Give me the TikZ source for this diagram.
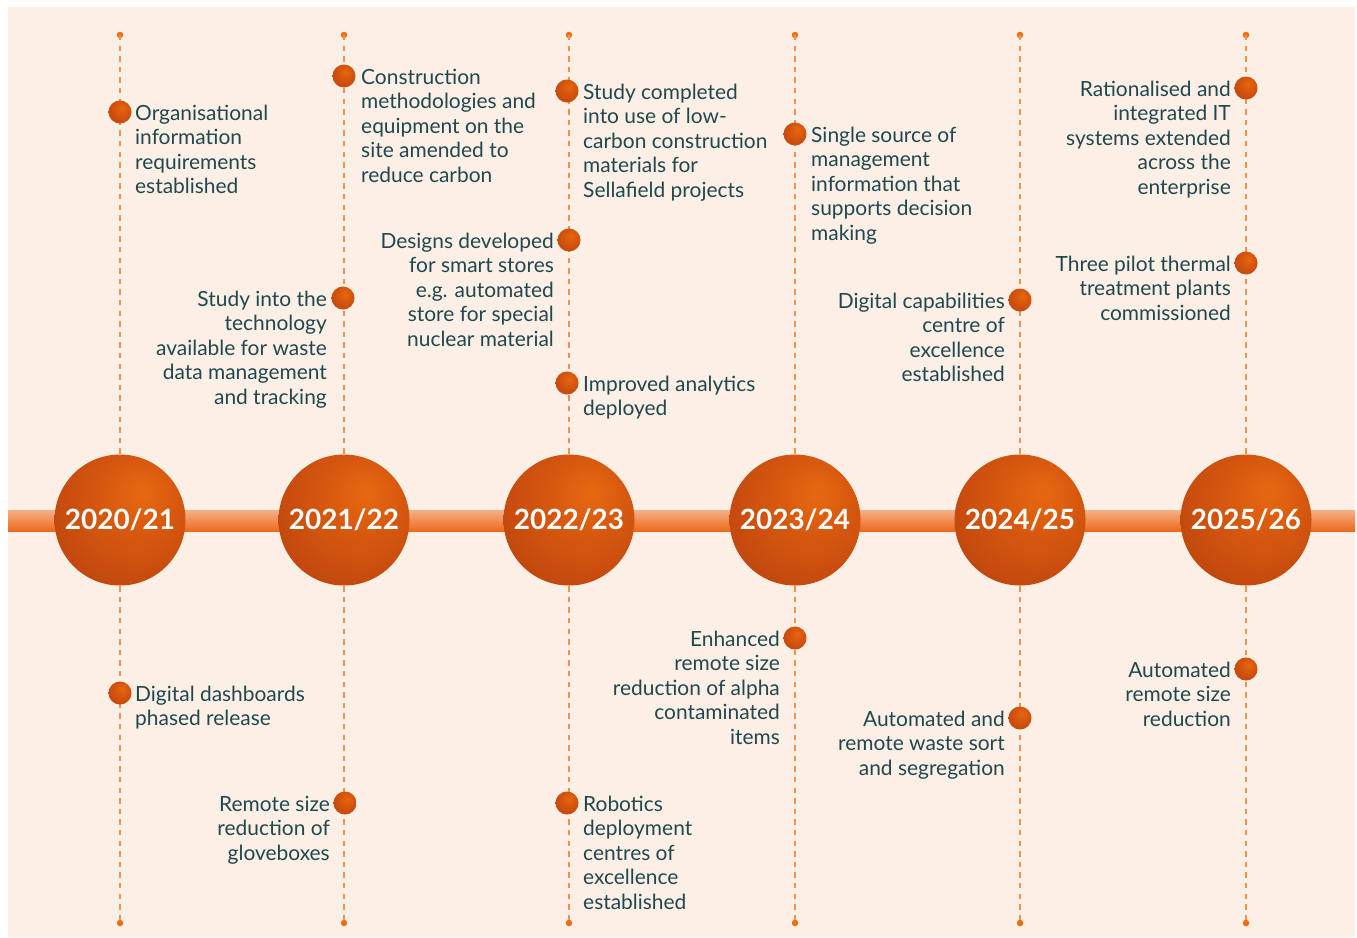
\documentclass[tikz,border=0pt]{standalone}
\usepackage{fontspec}
\setmainfont{Lato}
\definecolor{peach}{HTML}{FCEFE6}
\definecolor{txt}{HTML}{21474F}
\definecolor{dashorange}{HTML}{F4914A}
\definecolor{endorange}{HTML}{F06E10}
\definecolor{bartop}{HTML}{F7B088}
\definecolor{barbot}{HTML}{EC6A1C}
\pgfdeclareradialshading{yearshade}{\pgfpoint{9bp}{11bp}}{color(0bp)=(rgb,255:red,232;green,104;blue,16); color(15bp)=(rgb,255:red,214;green,88;blue,15); color(35bp)=(rgb,255:red,192;green,70;blue,14); color(52bp)=(rgb,255:red,174;green,58;blue,12); color(75bp)=(rgb,255:red,160;green,50;blue,10)}
\pgfdeclareradialshading{dotshade}{\pgfpoint{5bp}{9bp}}{color(0bp)=(rgb,255:red,232;green,102;blue,14); color(15bp)=(rgb,255:red,214;green,86;blue,14); color(35bp)=(rgb,255:red,192;green,68;blue,13); color(52bp)=(rgb,255:red,172;green,56;blue,12); color(75bp)=(rgb,255:red,160;green,50;blue,10)}
\tikzset{
  yearball/.style={circle, minimum size=131bp, inner sep=0pt, shade, shading=yearshade, text=white, font=\fontsize{28}{30}\selectfont\bfseries},
  mdot/.style={circle, minimum size=23bp, inner sep=0pt, shade, shading=dotshade},
  enddot/.style={circle, fill=endorange, minimum size=6.5bp, inner sep=0pt},
  vline/.style={draw=dashorange, line width=1.7bp, dash pattern=on 5.3bp off 5.3bp},
  ltxt/.style={anchor=base west, align=left, inner sep=0pt, text=txt, font=\fontsize{21}{24.6}\selectfont},
  rtxt/.style={anchor=base east, align=right, inner sep=0pt, text=txt, font=\fontsize{21}{24.6}\selectfont},
}
% base anchor of a multi-line node is the last line: y = dot + 8 + (lines-1)*24.6
\begin{document}
\begin{tikzpicture}[x=1bp,y=-1bp]
\useasboundingbox (0,0) rectangle (1357,937);
\fill[white] (0,0) rectangle (1357,937);
\fill[peach] (8,7) rectangle (1355,937);
% timeline bar
\shade[top color=bartop, bottom color=barbot] (8,510) rectangle (1355,531);
% columns
\foreach \n/\x in {a/120,b/344,c/569,d/795,e/1020,f/1246}{
  \node[enddot] (\n top) at (\x,35) {};
  \node[enddot] (\n bot) at (\x,923) {};
}
\foreach \n in {a,b,c,d,e,f}{
  \draw[vline] (\n top.center) -- (\n bot.center);
}
\node[yearball] (ya) at (120,520) {2020/21};
\node[yearball] (yb) at (344,520) {2021/22};
\node[yearball] (yc) at (569,520) {2022/23};
\node[yearball] (yd) at (795,520) {2023/24};
\node[yearball] (ye) at (1020,520) {2024/25};
\node[yearball] (yf) at (1246,520) {2025/26};
% 2020/21
\node[mdot] (a1) at (120,112) {};
\node[ltxt] (ta1) at (135,193.8) {Organisational\\information\\requirements\\established};
\node[mdot] (a2) at (120,693) {};
\node[ltxt] (ta2) at (135,725.6) {Digital dashboards\\phased release};
% 2021/22
\node[mdot] (b1) at (344,76) {};
\node[ltxt] (tb1) at (361,182.4) {Construction\\methodologies and\\equipment on the\\site amended to\\reduce carbon};
\node[mdot] (b2) at (343,298) {};
\node[rtxt] (tb2) at (327,404.4) {Study into the\\technology\\available for waste\\data management\\and tracking};
\node[mdot] (b3) at (345,803) {};
\node[rtxt] (tb3) at (330,860.2) {Remote size\\reduction of\\gloveboxes};
% 2022/23
\node[mdot] (c1) at (567,91) {};
\node[ltxt] (tc1) at (583,197.4) {Study completed\\into use of low-\\carbon construction\\materials for\\Sellafield projects};
\node[mdot] (c2) at (569,240) {};
\node[rtxt] (tc2) at (554,346.4) {Designs developed\\for smart stores\\e.g. automated\\store for special\\nuclear material};
\node[mdot] (c3) at (567,383) {};
\node[ltxt] (tc3) at (583,415.6) {Improved analytics\\deployed};
\node[mdot] (c4) at (567,803) {};
\node[ltxt] (tc4) at (583,909.4) {Robotics\\deployment\\centres of\\excellence\\established};
% 2023/24
\node[mdot] (d1) at (795,134) {};
\node[ltxt] (td1) at (811,240.4) {Single source of\\management\\information that\\supports decision\\making};
\node[mdot] (d2) at (795,638) {};
\node[rtxt] (td2) at (780,744.4) {Enhanced\\remote size\\reduction of alpha\\contaminated\\items};
% 2024/25
\node[mdot] (e1) at (1020,300) {};
\node[rtxt] (te1) at (1005,381.8) {Digital capabilities\\centre of\\excellence\\established};
\node[mdot] (e2) at (1020,718) {};
\node[rtxt] (te2) at (1005,775.2) {Automated and\\remote waste sort\\and segregation};
% 2025/26
\node[mdot] (f1) at (1246,88) {};
\node[rtxt] (tf1) at (1231,194.4) {Rationalised and\\integrated IT\\systems extended\\across the\\enterprise};
\node[mdot] (f2) at (1246,263) {};
\node[rtxt] (tf2) at (1231,320.2) {Three pilot thermal\\treatment plants\\commissioned};
\node[mdot] (f3) at (1246,669) {};
\node[rtxt] (tf3) at (1231,726.2) {Automated\\remote size\\reduction};
\end{tikzpicture}
\end{document}
